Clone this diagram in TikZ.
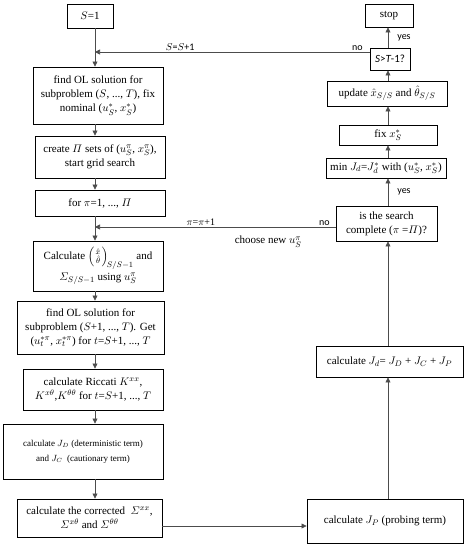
\documentclass[tikz,border=0pt]{standalone}
\usepackage{amsmath}
\usepackage{fontspec}
\setmainfont{Liberation Serif}
\setsansfont{Carlito}
\usetikzlibrary{arrows.meta}
\tikzstyle{flowBox}=[draw, line width=0.9pt, align=center, inner sep=0pt, font=\fontsize{11}{14}\selectfont]
\tikzstyle{flowArrow}=[-{Triangle[length=5pt,width=5pt]}, line width=0.7pt, draw=black!70]
\tikzstyle{flowLabel}=[font=\sffamily\fontsize{10}{12}\selectfont, inner sep=1pt]

\begin{document}
\begin{tikzpicture}[x=1pt,y=-1pt]
	\useasboundingbox (0,0) rectangle (467,550);
	\coordinate (lcol) at (95,0);
	\coordinate (rcol) at (388,0);

	% left column
	\node[flowBox, minimum width=46pt, minimum height=24pt] (s1) at (90,16) {$S$=1};
	\node[flowBox, minimum width=130pt, minimum height=57pt] (ol) at (98,95.5) {find OL solution for\\ subproblem ($S$, ..., $T$), fix\\ nominal ($u_S^*$, $x_S^*$)};
	\node[flowBox, minimum width=130pt, minimum height=42pt] (grid) at (100,157) {create $\varPi$ sets of ($u_S^\pi$, $x_S^\pi$),\\ start grid search};
	\node[flowBox, minimum width=130pt, minimum height=26pt] (forpi) at (100,203) {for $\pi$=1, ..., $\varPi$};
	\node[flowBox, minimum width=130pt, minimum height=50pt] (calc) at (98,266) {Calculate $\left(\genfrac{}{}{0pt}{1}{\hat{x}}{\hat{\theta}}\right)_{\!S/S-1}$ and\\[3pt] $\varSigma_{S/S-1}$ using $u_S^\pi$};
	\node[flowBox, minimum width=147pt, minimum height=53pt] (ol2) at (90.5,327.5) {find OL solution for\\ subproblem ($S$+1, ..., $T$). Get\\ ($u_t^{*\pi}$, $x_t^{*\pi}$) for $t$=$S$+1, ..., $T$};
	\node[flowBox, minimum width=140pt, minimum height=41pt] (ricc) at (93,389.5) {calculate Riccati $K^{xx}$,\\ $K^{x\theta}$,$K^{\theta\theta}$ for $t$=$S$+1, ..., $T$};
	\node[flowBox, minimum width=160pt, minimum height=55pt, font=\fontsize{9}{15}\selectfont] (jdc) at (83,451.5) {calculate $J_D$ (deterministic term)\\ and $J_C$\ \ (cautionary term)};
	\node[flowBox, minimum width=145pt, minimum height=38pt] (corr) at (89.5,518) {calculate the corrected\ \ $\varSigma^{xx}$,\\ $\varSigma^{x\theta}$ and $\varSigma^{\theta\theta}$};

	% right column
	\node[flowBox, minimum width=48pt, minimum height=23pt] (stop) at (389,15.5) {stop};
	\node[flowBox, minimum width=40pt, minimum height=22pt, font=\sffamily\fontsize{11}{13}\selectfont] (check) at (390,59) {\itshape S\upshape>\itshape T\upshape-1?};
	\node[flowBox, minimum width=120pt, minimum height=25pt] (upd) at (387,93.5) {update $\hat{x}_{S/S}$ and $\hat{\theta}_{S/S}$};
	\node[flowBox, minimum width=98pt, minimum height=20pt] (fix) at (388,135) {fix $x_S^*$};
	\node[flowBox, minimum width=120pt, minimum height=20pt] (minj) at (386,168) {min $J_d$=$J_d^*$ with ($u_S^*$, $x_S^*$)};
	\node[flowBox, minimum width=101pt, minimum height=35pt] (done) at (386.5,223.5) {is the search\\ complete ($\pi$ =$\varPi$)?};
	\node[flowBox, minimum width=147pt, minimum height=31pt] (jsum) at (389.5,361.5) {calculate $J_d$= $J_D$ + $J_C$ + $J_P$};
	\node[flowBox, minimum width=156pt, minimum height=44pt] (jp) at (385,521) {calculate $J_P$ (probing term)};

	% left column connectors
	\draw[flowArrow] (s1.south -| lcol) -- (ol.north -| lcol);
	\draw[flowArrow] (ol.south -| lcol) -- (grid.north -| lcol);
	\draw[flowArrow] (grid.south -| lcol) -- (forpi.north -| lcol);
	\draw[flowArrow] (forpi.south -| lcol) -- (calc.north -| lcol);
	\draw[flowArrow] (calc.south -| lcol) -- (ol2.north -| lcol);
	\draw[flowArrow] (ol2.south -| lcol) -- (ricc.north -| lcol);
	\draw[flowArrow] (ricc.south -| lcol) -- (jdc.north -| lcol);
	\draw[flowArrow] (jdc.south -| lcol) -- (corr.north -| lcol);
	\draw[flowArrow] ([yshift=-8pt]corr.east) -- ([yshift=-8pt]corr.east -| jp.west);

	% right column connectors
	\draw[flowArrow] (jp.north -| rcol) -- (jsum.south -| rcol);
	\draw[flowArrow] (jsum.north -| rcol) -- (done.south -| rcol);
	\draw[flowArrow] (done.north -| rcol) -- node[flowLabel, right=8pt] {yes} (minj.south -| rcol);
	\draw[flowArrow] (minj.north -| rcol) -- (fix.south -| rcol);
	\draw[flowArrow] (fix.north -| rcol) -- (upd.south -| rcol);
	\draw[flowArrow] (upd.north -| rcol) -- (check.south -| rcol);
	\draw[flowArrow] (check.north -| rcol) -- node[flowLabel, right=8pt] {yes} (stop.south -| rcol);

	% loops back
	\draw[flowArrow] ([yshift=7pt]check.west) -- node[flowLabel, pos=0.044, above] {no} node[flowLabel, pos=0.69, above] {$S$=$S$+1} ([yshift=7pt]check.west -| lcol);
	\draw[flowArrow] ([yshift=-3.5pt]done.west) -- node[flowLabel, pos=0.046, above] {no} node[flowLabel, font=\fontsize{10}{12}\selectfont, pos=0.56, above] {$\pi$=$\pi$+1} node[pos=0.28, below=8pt, font=\fontsize{11}{13}\selectfont, inner sep=1pt] {choose new $u_S^\pi$} ([yshift=-3.5pt]done.west -| lcol);
\end{tikzpicture}
\end{document}
